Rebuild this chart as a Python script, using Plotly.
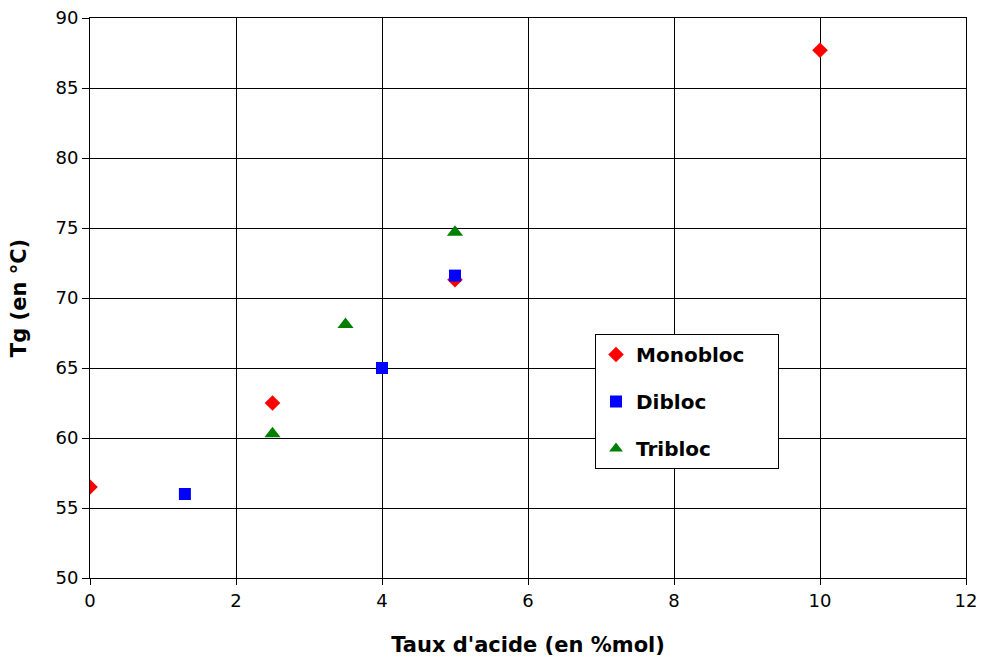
import plotly.graph_objects as go

mono_x = [0, 2.5, 5, 10]
mono_y = [56.5, 62.5, 71.3, 87.7]
di_x = [1.3, 4, 5]
di_y = [56.0, 65.0, 71.6]
tri_x = [2.5, 3.5, 5]
tri_y = [60.3, 68.1, 74.7]

FONT = "DejaVu Sans"
PAD = "\u00a0" * 4  # extra right padding inside the legend box

fig = go.Figure()
fig.add_trace(go.Scatter(x=mono_x, y=mono_y, mode="markers", name="Monobloc" + PAD,
                         legendgroup="a",
                         marker=dict(symbol="diamond", size=12, color="#ff0000", line=dict(width=0))))
fig.add_trace(go.Scatter(x=di_x, y=di_y, mode="markers", name="Dibloc",
                         legendgroup="b",
                         marker=dict(symbol="square", size=12, color="#0000ff", line=dict(width=0))))
fig.add_trace(go.Scatter(x=tri_x, y=tri_y, mode="markers", name="Tribloc",
                         legendgroup="c",
                         marker=dict(symbol="triangle-up", size=14, color="#008000", line=dict(width=0))))

fig.update_layout(
    width=981, height=659,
    margin=dict(l=90, r=15, t=18, b=81),
    paper_bgcolor="white", plot_bgcolor="white",
    font=dict(family=FONT, color="black", size=18),
    legend=dict(x=0.5765, y=0.4357, xanchor="left", yanchor="top",
                bgcolor="white", bordercolor="black", borderwidth=1,
                font=dict(family=FONT, size=20, color="black", weight="bold"),
                tracegroupgap=18, traceorder="grouped",
                itemsizing="constant"),
    showlegend=True,
)
fig.update_xaxes(range=[0, 12], tickvals=[0, 2, 4, 6, 8, 10, 12],
                 automargin=False,
                 showgrid=True, gridcolor="black", gridwidth=1,
                 showline=True, linecolor="black", linewidth=1, mirror=True,
                 ticks="outside", ticklen=6, tickcolor="black",
                 zeroline=False,
                 title=dict(text="Taux d'acide (en %mol)", font=dict(size=21, weight="bold"), standoff=27))
fig.update_yaxes(range=[50, 90], tickvals=[50, 55, 60, 65, 70, 75, 80, 85, 90],
                 automargin=False,
                 showgrid=True, gridcolor="black", gridwidth=1,
                 showline=True, linecolor="black", linewidth=1, mirror=True,
                 ticks="outside", ticklen=7, tickcolor="black",
                 zeroline=False,
                 title=dict(text="Tg (en °C)", font=dict(size=21, weight="bold"), standoff=23))

fig.write_html("out.html", config={"displayModeBar": False},
               post_script="document.body.style.margin='0';document.body.style.overflow='hidden';")
